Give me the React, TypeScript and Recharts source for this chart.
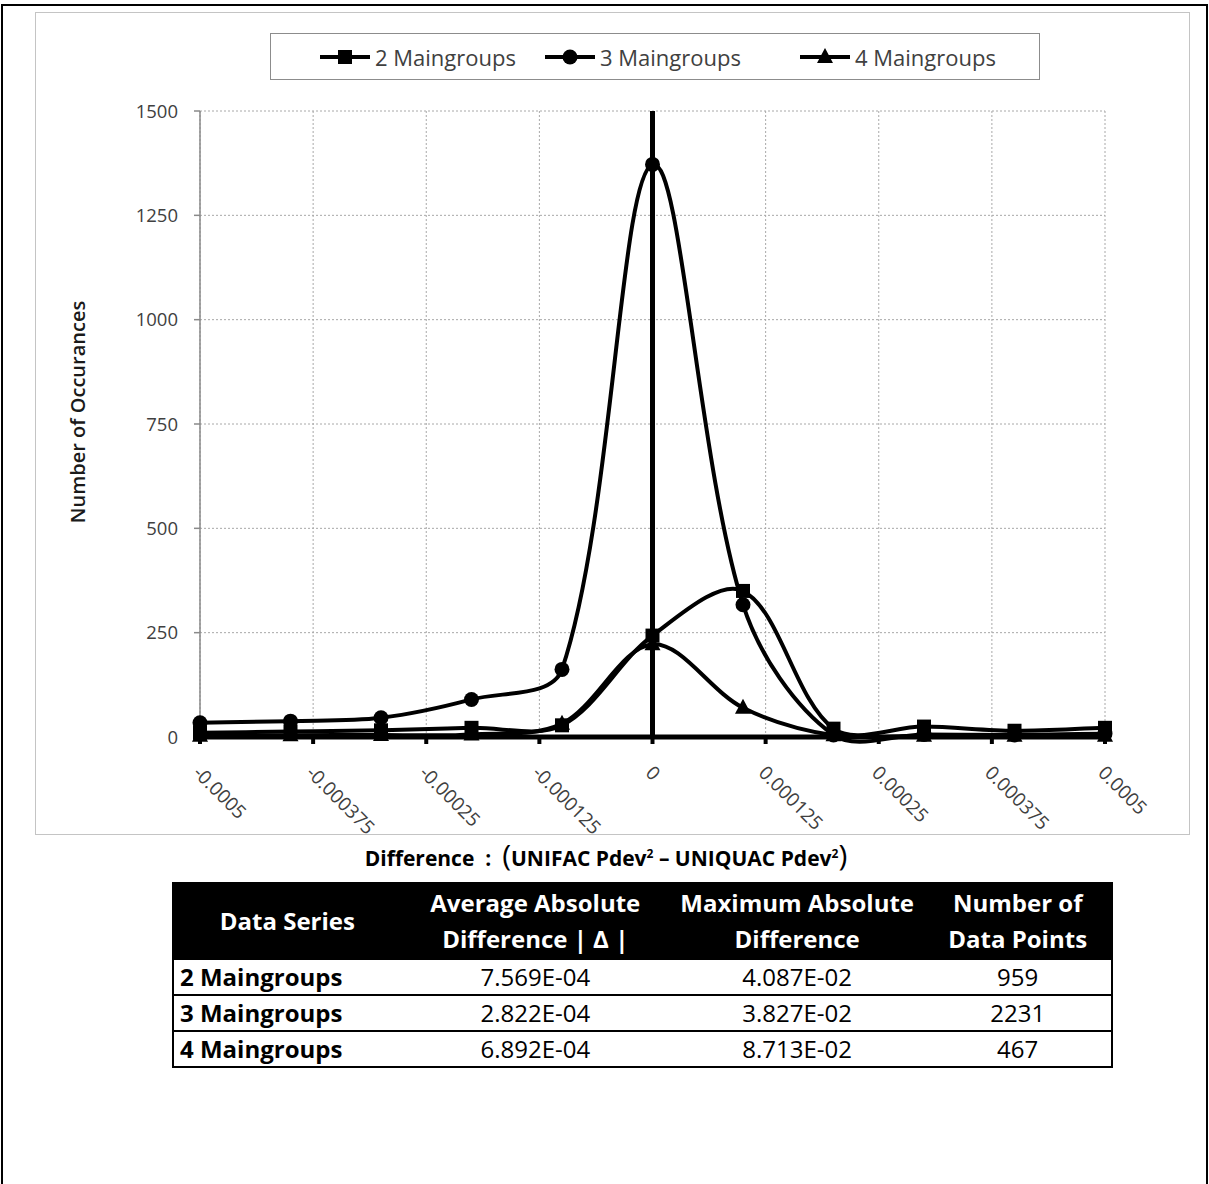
import React from 'react';
import { LineChart, Line, XAxis, YAxis, CartesianGrid, ReferenceLine } from 'recharts';

// Bin centres of the difference histogram and the counts per bin
const binCentres = [-0.0005, -0.0004, -0.0003, -0.0002, -0.0001, 0, 0.0001, 0.0002, 0.0003, 0.0004, 0.0005];
const twoMaingroups = [10, 13, 16, 22, 28, 243, 350, 20, 25, 15, 22];
const threeMaingroups = [34, 38, 46, 90, 162, 1372, 317, 5, 6, 5, 8];
const fourMaingroups = [3, 4, 5, 6, 32, 222, 70, 4, 3, 3, 3];

const seriesNames = ['2 Maingroups', '3 Maingroups', '4 Maingroups'];

const xTicks = [-0.0005, -0.000375, -0.00025, -0.000125, 0, 0.000125, 0.00025, 0.000375, 0.0005];
const xTickLabels = ['-0.0005', '-0.000375', '-0.00025', '-0.000125', '0', '0.000125', '0.00025', '0.000375', '0.0005'];
const yTicks = [0, 250, 500, 750, 1000, 1250, 1500];

// Summary table
const tableSeries = ['2 Maingroups', '3 Maingroups', '4 Maingroups'];
const avgAbsDifference = ['7.569E-04', '2.822E-04', '6.892E-04'];
const maxAbsDifference = ['4.087E-02', '3.827E-02', '8.713E-02'];
const dataPointCounts = ['959', '2231', '467'];

const chartData = binCentres.map((x, i) => ({
  x,
  g2: twoMaingroups[i],
  g3: threeMaingroups[i],
  g4: fourMaingroups[i],
}));

const FONT = '"Open Sans", "Noto Sans", sans-serif';

// Smoothed line: cubic Bezier segments whose handles follow the neighbouring
// points and are scaled by the on-screen length of each adjacent segment.
const smoothCurve = (context: any) => {
  let xs: number[] = [];
  let ys: number[] = [];
  return {
    areaStart() {},
    areaEnd() {},
    lineStart() {
      xs = [];
      ys = [];
    },
    point(x: number, y: number) {
      xs.push(+x);
      ys.push(+y);
    },
    lineEnd() {
      const n = xs.length;
      if (!n) return;
      context.moveTo(xs[0], ys[0]);
      const handles = (i: number) => {
        const i0 = Math.max(0, i - 1);
        const i2 = Math.min(n - 1, i + 1);
        const tx = xs[i2] - xs[i0];
        const ty = ys[i2] - ys[i0];
        const d01 = Math.hypot(xs[i] - xs[i0], ys[i] - ys[i0]);
        const d12 = Math.hypot(xs[i2] - xs[i], ys[i2] - ys[i]);
        const s = d01 + d12 || 1;
        const a = d01 / s / 3;
        const b = d12 / s / 3;
        return [xs[i] - tx * a, ys[i] - ty * a, xs[i] + tx * b, ys[i] + ty * b];
      };
      for (let i = 0; i < n - 1; i++) {
        const h1 = handles(i);
        const h2 = handles(i + 1);
        context.bezierCurveTo(h1[2], h1[3], h2[0], h2[1], xs[i + 1], ys[i + 1]);
      }
    },
  };
};

const squareDot = (p: any) => (
  <rect key={`sq-${p.index}`} x={p.cx - 7} y={p.cy - 7} width={14} height={14} fill="#000" />
);
const circleDot = (p: any) => <circle key={`ci-${p.index}`} cx={p.cx} cy={p.cy} r={7.5} fill="#000" />;
const triangleDot = (p: any) => (
  <path
    key={`tr-${p.index}`}
    d={`M${p.cx},${p.cy - 9} L${p.cx + 8},${p.cy + 6} L${p.cx - 8},${p.cy + 6} Z`}
    fill="#000"
  />
);

const XTick = (props: any) => {
  const { x, y, index } = props;
  const bx = x - 8;
  const by = y + 30;
  return (
    <text
      x={bx}
      y={by}
      transform={`rotate(45 ${bx} ${by})`}
      textAnchor="start"
      fontFamily={FONT}
      fontSize={19}
      fill="#404040"
    >
      {xTickLabels[index]}
    </text>
  );
};

const LegendIcon = ({ kind }: { kind: number }) => (
  <svg width={52} height={22} style={{ verticalAlign: 'middle' }}>
    <line x1={1} y1={11} x2={51} y2={11} stroke="#000" strokeWidth={4} />
    {kind === 0 && <rect x={19} y={4} width={14} height={14} fill="#000" />}
    {kind === 1 && <circle cx={26} cy={11} r={7.5} fill="#000" />}
    {kind === 2 && <path d="M26,2 L34,17 L18,17 Z" fill="#000" />}
  </svg>
);

// left offsets of the legend entries inside the legend box
const legendOffsets = [48, 273, 528];

export default function App() {
  const thStyle: React.CSSProperties = {
    color: '#fff',
    fontWeight: 700,
    textAlign: 'center',
    lineHeight: '36px',
    fontSize: 24,
    padding: 0,
  };
  const tdStyle: React.CSSProperties = {
    textAlign: 'center',
    fontWeight: 400,
    padding: 0,
    height: 34,
    lineHeight: '34px',
    borderTop: '2px solid #000',
  };
  return (
    <div
      style={{
        position: 'relative',
        width: 1209,
        height: 1184,
        overflow: 'hidden',
        background: '#fff',
        fontFamily: FONT,
      }}
    >
      <style>{'body{margin:0}'}</style>
      {/* outer frame */}
      <div
        style={{
          position: 'absolute',
          left: 1,
          top: 4,
          width: 1207,
          height: 1260,
          border: '2px solid #000',
          boxSizing: 'border-box',
        }}
      />
      {/* chart area frame */}
      <div
        style={{
          position: 'absolute',
          left: 35,
          top: 12,
          width: 1155,
          height: 823,
          border: '1px solid #c4c4c4',
          boxSizing: 'border-box',
        }}
      />
      <div style={{ position: 'absolute', left: 0, top: 0 }}>
        <LineChart
          width={1209}
          height={850}
          data={chartData}
          margin={{ top: 111, right: 104, bottom: 53, left: 0 }}
        >
          <CartesianGrid stroke="#a8a8a8" strokeDasharray="2 2" strokeWidth={1} />
          <XAxis
            dataKey="x"
            type="number"
            domain={[-0.0005, 0.0005]}
            ticks={xTicks}
            height={60}
            interval={0}
            axisLine={{ stroke: '#000', strokeWidth: 5 }}
            tickLine={{ stroke: '#000', strokeWidth: 4 }}
            tickSize={7}
            tickMargin={0}
            tick={<XTick />}
          />
          <YAxis
            type="number"
            domain={[0, 1500]}
            ticks={yTicks}
            width={200}
            interval={0}
            axisLine={{ stroke: '#8a8a8a', strokeWidth: 1.5 }}
            tickLine={{ stroke: '#8a8a8a', strokeWidth: 1.5 }}
            tickSize={6}
            tickMargin={16}
            tick={{ fontFamily: FONT, fontSize: 18.5, fill: '#404040' }}
            label={{
              content: () => (
                <text
                  x={85}
                  y={412}
                  transform="rotate(-90 85 412)"
                  textAnchor="middle"
                  fontFamily={FONT}
                  fontSize={20}
                  fontWeight={600}
                  fill="#1a1a1a"
                >
                  Number of Occurances
                </text>
              ),
            }}
          />
          <ReferenceLine x={0} stroke="#000" strokeWidth={5} />
          <Line
            dataKey="g2"
            name={seriesNames[0]}
            type={smoothCurve as any}
            stroke="#000"
            strokeWidth={4}
            dot={squareDot}
            activeDot={false}
            isAnimationActive={false}
          />
          <Line
            dataKey="g3"
            name={seriesNames[1]}
            type={smoothCurve as any}
            stroke="#000"
            strokeWidth={4}
            dot={circleDot}
            activeDot={false}
            isAnimationActive={false}
          />
          <Line
            dataKey="g4"
            name={seriesNames[2]}
            type={smoothCurve as any}
            stroke="#000"
            strokeWidth={4}
            dot={triangleDot}
            activeDot={false}
            isAnimationActive={false}
          />
        </LineChart>
      </div>
      {/* legend */}
      <div
        style={{
          position: 'absolute',
          left: 270,
          top: 33,
          width: 770,
          height: 47,
          border: '1px solid #8c8c8c',
          boxSizing: 'border-box',
          fontSize: 22,
          color: '#404040',
        }}
      >
        {seriesNames.map((name, i) => (
          <span
            key={name}
            style={{
              position: 'absolute',
              left: legendOffsets[i],
              top: 0,
              height: 45,
              display: 'inline-flex',
              alignItems: 'center',
              gap: 4,
              whiteSpace: 'nowrap',
            }}
          >
            <LegendIcon kind={i} />
            {name}
          </span>
        ))}
      </div>
      {/* horizontal axis title */}
      <div
        style={{
          position: 'absolute',
          left: 0,
          top: 834,
          width: 1212,
          textAlign: 'center',
          fontWeight: 700,
          fontSize: 21,
          color: '#000',
          whiteSpace: 'nowrap',
        }}
      >
        Difference&nbsp; : &nbsp;
        <span style={{ fontWeight: 400, fontSize: 30 }}>(</span>
        UNIFAC Pdev<sup style={{ fontSize: 12 }}>2</sup> – UNIQUAC Pdev<sup style={{ fontSize: 12 }}>2</sup>
        <span style={{ fontWeight: 400, fontSize: 30 }}>)</span>
      </div>
      {/* summary table */}
      <table
        style={{
          position: 'absolute',
          left: 172,
          top: 882,
          width: 941,
          borderCollapse: 'collapse',
          border: '2px solid #000',
          fontSize: 24,
          color: '#000',
          fontFamily: FONT,
        }}
      >
        <colgroup>
          <col style={{ width: 228 }} />
          <col style={{ width: 270 }} />
          <col style={{ width: 255 }} />
          <col style={{ width: 188 }} />
        </colgroup>
        <thead>
          <tr style={{ background: '#000', height: 76 }}>
            <th style={thStyle}>Data Series</th>
            <th style={thStyle}>
              Average Absolute
              <br />
              Difference | Δ |
            </th>
            <th style={thStyle}>
              Maximum Absolute
              <br />
              Difference
            </th>
            <th style={thStyle}>
              Number of
              <br />
              Data Points
            </th>
          </tr>
        </thead>
        <tbody>
          {tableSeries.map((s, i) => (
            <tr key={s}>
              <td style={{ ...tdStyle, textAlign: 'left', paddingLeft: 6, fontWeight: 700 }}>{s}</td>
              <td style={tdStyle}>{avgAbsDifference[i]}</td>
              <td style={tdStyle}>{maxAbsDifference[i]}</td>
              <td style={tdStyle}>{dataPointCounts[i]}</td>
            </tr>
          ))}
        </tbody>
      </table>
    </div>
  );
}
